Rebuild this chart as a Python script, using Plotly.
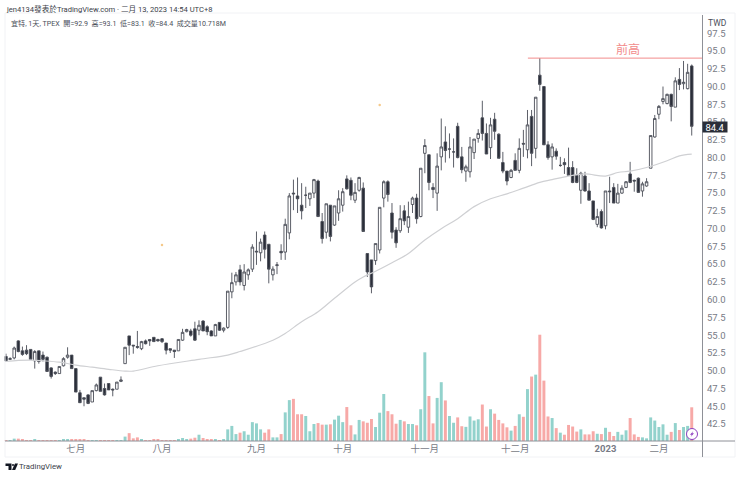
import plotly.graph_objects as go

# daily bars, oldest first
opens = [
    52.0, 51.6, 51.8, 54.2, 52.8, 52.9, 53.0, 51.4, 52.8, 52.2,
    51.9, 50.4, 49.8, 49.6, 50.7, 51.9, 52.2, 50.3, 46.9, 46.2,
    46.6, 45.6, 47.2, 49.1, 47.5, 48.2, 47.4, 47.4, 48.5, 51.0,
    54.9, 53.6, 53.4, 53.1, 54.2, 54.4, 54.7, 54.4, 54.5, 53.9,
    53.1, 52.9, 52.8, 54.3, 55.5, 55.6, 55.9, 55.7, 57.0, 56.2,
    55.6, 54.9, 56.8, 55.7, 56.1, 61.1, 62.5, 64.2, 62.0, 63.5,
    64.3, 66.7, 66.6, 69.1, 67.8, 63.5, 64.8, 66.8, 66.7, 69.4,
    75.0, 74.6, 73.3, 74.7, 74.2, 75.0, 76.7, 71.0, 69.5, 73.3,
    70.5, 72.2, 73.3, 77.0, 76.8, 74.0, 75.4, 75.7, 66.5, 65.6,
    65.5, 67.0, 74.3, 76.6, 72.2, 69.8, 69.7, 72.5, 70.2, 73.4,
    74.3, 71.7, 80.6, 80.4, 75.8, 75.0, 80.1, 82.2, 81.2, 80.8,
    84.4, 80.1, 78.1, 78.0, 80.7, 82.7, 85.6, 83.4, 81.4, 85.4,
    83.3, 79.3, 78.1, 77.2, 79.6, 78.2, 82.0, 81.1, 85.8, 81.3,
    91.6, 90.0, 81.8, 80.1, 80.9, 78.9, 79.3, 78.6, 78.6, 77.5,
    75.4, 77.4, 75.3, 73.9, 70.6, 72.4, 70.4, 75.3, 75.8, 73.6,
    75.0, 75.8, 77.7, 76.8, 77.1, 75.3, 76.0, 78.5, 82.9, 86.1,
    87.9, 87.6, 88.9, 87.1, 91.0, 90.4, 89.7, 92.9,
]
highs = [
    52.4, 51.9, 53.4, 54.3, 53.4, 53.6, 53.0, 52.9, 52.8, 52.7,
    52.0, 50.5, 49.9, 50.6, 51.9, 53.3, 52.2, 50.3, 47.3, 46.2,
    46.7, 47.2, 48.2, 49.1, 48.2, 48.2, 47.5, 48.4, 49.2, 53.3,
    54.9, 53.6, 55.6, 54.2, 54.4, 54.4, 54.7, 54.5, 54.6, 53.9,
    53.1, 52.9, 54.4, 55.9, 55.9, 55.9, 56.9, 57.1, 57.1, 56.4,
    55.7, 56.6, 56.8, 56.1, 61.2, 63.8, 63.9, 64.9, 65.0, 64.4,
    67.8, 69.6, 68.6, 69.6, 67.8, 64.7, 65.3, 67.8, 71.4, 75.0,
    76.9, 77.2, 76.4, 75.9, 75.0, 77.0, 76.9, 72.2, 73.5, 73.3,
    73.2, 75.4, 75.7, 77.5, 77.2, 76.4, 77.3, 76.5, 66.5, 65.6,
    67.9, 73.0, 76.8, 76.8, 73.6, 70.2, 73.3, 73.3, 73.8, 74.5,
    74.9, 78.5, 82.6, 80.4, 76.4, 80.6, 85.5, 84.4, 83.4, 82.7,
    84.9, 81.5, 79.0, 82.9, 82.6, 84.0, 88.0, 84.8, 85.6, 86.3,
    83.4, 80.8, 78.1, 78.4, 80.6, 82.7, 83.9, 86.7, 86.7, 88.5,
    94.0, 90.0, 82.3, 82.0, 81.3, 80.1, 79.9, 81.4, 79.5, 78.5,
    78.0, 78.0, 76.4, 73.9, 72.8, 72.7, 75.3, 77.3, 76.4, 76.3,
    76.1, 76.7, 79.4, 76.9, 77.2, 76.6, 77.1, 83.1, 86.0, 87.4,
    90.0, 89.0, 89.0, 91.3, 92.6, 93.6, 93.2, 93.1,
]
lows = [
    51.3, 51.5, 51.6, 52.6, 52.1, 52.2, 51.6, 50.3, 51.0, 51.3,
    49.9, 48.9, 49.4, 49.6, 50.6, 51.7, 50.3, 47.0, 45.5, 45.0,
    45.3, 45.6, 47.1, 47.1, 46.5, 47.3, 46.4, 47.4, 48.4, 51.0,
    52.2, 52.4, 53.1, 52.9, 53.7, 53.5, 54.1, 54.1, 53.9, 52.3,
    52.5, 51.8, 52.8, 54.2, 55.4, 54.8, 54.2, 55.0, 55.6, 55.0,
    54.9, 54.9, 55.6, 55.4, 55.9, 60.2, 62.0, 62.0, 61.3, 62.8,
    63.9, 64.9, 65.4, 65.8, 62.3, 62.7, 63.6, 65.6, 65.6, 68.5,
    72.6, 72.2, 71.3, 72.9, 73.2, 74.3, 71.7, 67.9, 68.6, 68.2,
    70.4, 71.1, 72.4, 75.5, 74.0, 73.6, 75.2, 69.6, 63.2, 60.9,
    64.9, 66.5, 73.0, 73.8, 68.6, 67.3, 69.4, 70.5, 69.4, 72.2,
    70.7, 71.6, 77.8, 75.4, 74.3, 72.5, 78.2, 79.3, 79.9, 78.6,
    79.9, 77.8, 76.6, 77.2, 79.8, 82.1, 82.4, 80.5, 79.8, 82.5,
    79.9, 77.8, 76.1, 77.1, 78.2, 77.8, 80.1, 79.9, 78.8, 79.9,
    89.4, 81.8, 79.7, 78.3, 79.7, 78.7, 77.7, 77.5, 76.4, 76.4,
    73.5, 75.2, 74.0, 71.2, 70.2, 70.0, 69.9, 73.6, 73.6, 73.6,
    74.9, 75.7, 76.4, 75.2, 75.1, 74.5, 75.9, 78.5, 82.8, 85.4,
    87.5, 87.5, 85.1, 87.1, 89.5, 89.6, 89.6, 83.1,
]
closes = [
    51.4, 51.7, 53.2, 52.7, 52.3, 52.4, 51.6, 52.7, 51.3, 51.6,
    49.9, 49.2, 49.6, 50.6, 51.7, 52.2, 50.3, 47.0, 45.5, 46.0,
    45.4, 47.2, 48.0, 47.1, 46.6, 47.3, 47.3, 48.4, 48.7, 53.3,
    53.6, 53.5, 53.3, 54.1, 53.8, 54.2, 54.1, 54.2, 54.1, 52.9,
    52.9, 52.7, 54.4, 55.4, 55.8, 55.0, 54.3, 56.4, 55.6, 55.5,
    54.9, 56.5, 55.7, 56.0, 61.2, 62.4, 63.5, 62.5, 63.9, 64.2,
    67.4, 66.8, 68.1, 67.1, 64.3, 64.3, 64.9, 66.6, 70.6, 74.6,
    74.9, 74.2, 72.5, 74.7, 75.0, 76.9, 71.7, 68.6, 73.5, 68.9,
    73.2, 74.2, 75.2, 75.6, 74.7, 75.1, 77.2, 69.6, 63.9, 61.8,
    67.9, 73.0, 76.6, 74.8, 69.5, 68.0, 71.4, 71.1, 71.7, 74.3,
    71.4, 78.5, 81.7, 76.5, 75.5, 78.8, 81.5, 81.0, 81.2, 80.8,
    80.0, 78.3, 78.7, 81.5, 82.6, 83.4, 83.4, 80.5, 84.6, 83.7,
    79.9, 78.1, 76.7, 78.2, 78.2, 81.3, 81.9, 84.6, 80.6, 88.5,
    90.3, 81.8, 80.0, 81.5, 80.2, 78.9, 79.0, 77.5, 76.5, 76.5,
    77.8, 75.3, 74.0, 71.3, 71.7, 70.1, 75.3, 75.2, 73.6, 75.0,
    75.7, 76.6, 76.5, 76.7, 75.1, 76.3, 76.6, 83.1, 85.5, 87.2,
    88.3, 88.9, 87.2, 90.8, 90.3, 90.6, 92.0, 84.4,
]
volumes = [
    0.3, 0.3, 0.75, 0.75, 0.4, 0.3, 0.2, 0.5, 0.3, 0.3,
    0.3, 0.3, 0.3, 0.3, 0.4, 0.6, 0.4, 0.6, 0.5, 0.4,
    0.3, 0.3, 0.3, 0.3, 0.3, 0.2, 0.2, 0.2, 0.2, 1.4,
    2.5, 0.85, 1.15, 0.4, 0.3, 0.3, 0.5, 0.4, 0.3, 0.3,
    0.3, 0.3, 0.6, 0.95, 0.6, 0.75, 1.05, 2.0, 0.95, 0.5,
    0.4, 0.5, 0.3, 0.4, 3.7, 4.8, 2.2, 2.65, 3.1, 2.0,
    6.0, 5.6, 3.7, 2.65, 3.7, 1.15, 1.15, 2.2, 9.1, 13.0,
    13.4, 8.5, 8.5, 7.95, 3.1, 5.4, 5.7, 5.2, 5.2, 5.3,
    6.8, 8.05, 6.0, 10.8, 5.0, 2.1, 6.7, 6.25, 5.8, 7.0,
    4.45, 9.0, 14.95, 9.5, 8.5, 5.5, 6.7, 6.25, 5.4, 5.4,
    5.0, 10.1, 28.2, 14.3, 5.6, 13.7, 18.7, 12.9, 7.95, 5.8,
    7.5, 4.7, 4.5, 7.8, 6.5, 6.9, 11.6, 4.6, 10.1, 8.7,
    6.7, 5.6, 4.35, 3.3, 4.8, 8.5, 7.7, 16.5, 20.5, 21.1,
    33.8, 19.2, 7.8, 7.3, 4.1, 2.65, 2.0, 5.1, 4.6, 3.0,
    3.7, 2.1, 2.1, 3.1, 2.3, 2.2, 4.2, 2.9, 1.6, 2.9,
    2.0, 3.4, 7.3, 2.1, 1.3, 1.15, 0.85, 7.5, 6.5, 4.45,
    5.3, 2.0, 2.9, 5.7, 3.5, 4.45, 4.8, 10.718,
]

# moving average, read at spots along the curve
ma_bars = [0, 3, 6, 9, 13, 17, 21, 25, 29, 31, 37, 47, 54, 57, 65, 68, 72, 76, 80, 85, 87,
           90, 94, 98, 102, 106, 110, 114, 118, 122, 126, 130, 133, 137, 141, 146, 149, 152, 156, 161, 164, 167]
ma_values = [51.3, 51.45, 51.5, 51.4, 51.2, 50.8, 50.5, 50.2, 49.95, 49.95, 50.7, 51.6, 52.2, 52.7, 54.3, 55.25,
             56.9, 58.3, 60.2, 62.5, 63.2, 64.0, 65.2, 66.5, 68.4, 70.0, 71.4, 73.1, 74.2, 74.9, 75.7, 76.5,
             76.9, 77.4, 77.7, 77.4, 77.9, 78.1, 78.6, 79.55, 80.25, 80.5]

price_ticks = [42.5, 45.0, 47.5, 50.0, 52.5, 55.0, 57.5, 60.0, 62.5, 65.0, 67.5, 70.0,
               72.5, 75.0, 77.5, 80.0, 82.5, 85.0, 87.5, 90.0, 92.5, 95.0, 97.5]
month_bars = [17, 38, 61, 82, 102, 124, 146, 159]
month_labels = ["七月", "八月", "九月", "十月", "十一月", "十二月", "<b>2023</b>", "二月"]

prior_high_bars = [127.1, 169.5]
prior_high = [94.0, 94.0]
speck_bars = [38, 91]
speck_prices = [67.7, 87.4]

FONT = "Roboto, 'Noto Sans CJK TC', sans-serif"
INK = "#2a2e39"
GREY = "#787b86"
TEAL = "#92d2cc"
PINK = "#f7a9a7"

bars = list(range(len(closes)))
volume_colors = [TEAL if c >= o else PINK for o, c in zip(opens, closes)]


# overlay bits are placed in screen pixels, plot runs 0..702 across and 13..441 down
def px(x):
    return x / 702


def py(y):
    return (441 - y) / 428


def path(points):
    return "M " + " L ".join(f"{px(x):.5f},{py(y):.5f}" for x, y in points) + " Z"


fig = go.Figure()

fig.add_trace(go.Bar(x=bars, y=volumes, yaxis="y2", marker_color=volume_colors,
                     marker_line_width=0, width=0.72))
fig.add_trace(go.Scatter(x=ma_bars, y=ma_values, mode="lines", line=dict(color="#cfd0d3", width=1.2, shape="spline")))
fig.add_trace(go.Candlestick(x=bars, open=opens, high=highs, low=lows, close=closes, whiskerwidth=0,
                             increasing=dict(fillcolor="#ffffff", line=dict(color="#4a4d57", width=0.9)),
                             decreasing=dict(fillcolor=INK, line=dict(color="#4a4d57", width=0.9))))
fig.add_trace(go.Scatter(x=prior_high_bars, y=prior_high, mode="lines", line=dict(color="#f28b8b", width=1)))
fig.add_trace(go.Scatter(x=speck_bars, y=speck_prices, mode="markers", marker=dict(color="#f5c98a", size=2.5)))

fig.update_layout(
    width=740, height=477, showlegend=False,
    margin=dict(l=0, r=38, t=13, b=36),
    paper_bgcolor="#ffffff", plot_bgcolor="#ffffff",
    font=dict(family=FONT, color=GREY, size=10),
    boxgap=0.12,
    xaxis=dict(range=[-1.46, 169.5], rangeslider=dict(visible=False), showgrid=False, zeroline=False,
               tickvals=month_bars, ticktext=month_labels, tickfont=dict(size=9.5, color=GREY),
               ticks="", showline=False),
    yaxis=dict(range=[40.11, 100.35], side="right", showgrid=False, zeroline=False, tickvals=price_ticks,
               ticktext=[f"{t:.1f}" for t in price_ticks], ticks="", ticklabelstandoff=4,
               tickfont=dict(size=9.5, color=GREY)),
    yaxis2=dict(range=[0, 136.1], overlaying="y", side="left", visible=False),
)

line = dict(color="#8e9097", width=1)
frame = dict(color="#f1f2f5", width=1)
fig.update_layout(shapes=[
    dict(type="rect", xref="paper", yref="paper", x0=px(5), x1=px(735), y0=py(457), y1=py(13), line=frame),
    dict(type="line", xref="paper", yref="paper", x0=px(5), x1=px(735), y0=py(441), y1=py(441), line=line),
    dict(type="line", xref="paper", yref="paper", x0=px(702.5), x1=px(702.5), y0=py(457), y1=py(15), line=line),
    # lightning badge on the last bar
    dict(type="circle", xref="paper", yref="paper", x0=px(686.5), x1=px(697.5), y0=py(439.5), y1=py(428.5),
         line=dict(color="#8e3fc0", width=1), fillcolor="#ffffff"),
    dict(type="path", xref="paper", yref="paper", fillcolor="#8e3fc0", line=dict(width=0),
         path=path([(693.3, 431), (690, 434.8), (691.8, 434.8), (690.7, 437), (694, 433.2), (692.2, 433.2)])),
    # logo
    dict(type="path", xref="paper", yref="paper", fillcolor="#131722", line=dict(width=0),
         path=path([(5.5, 463.5), (11.5, 463.5), (11.5, 470), (8.5, 470), (8.5, 466), (5.5, 466)])),
    dict(type="circle", xref="paper", yref="paper", x0=px(12), x1=px(14), y0=py(466), y1=py(464),
         fillcolor="#131722", line=dict(width=0)),
    dict(type="path", xref="paper", yref="paper", fillcolor="#131722", line=dict(width=0),
         path=path([(15, 463.5), (18, 463.5), (15.2, 470), (12, 470)])),
])


def note(text, x, y, size, color, anchor="left", **kw):
    fig.add_annotation(text=text, xref="paper", yref="paper", x=px(x), y=py(y), xanchor=anchor, yanchor="middle",
                       showarrow=False, font=dict(size=size, color=color, family=FONT), **kw)


note("jen4134發表於TradingView.com · 二月 13, 2023 14:54 UTC+8", 4, 9, 7.6, "#3a3e49")
note("宜特, 1天, TPEX&nbsp;&nbsp;開=92.9&nbsp;&nbsp;高=93.1&nbsp;&nbsp;低=83.1&nbsp;&nbsp;收=84.4&nbsp;&nbsp;成交量10.718M",
     9, 24, 7.1, "#4a4e59")
note("TWD", 706, 23, 8.5, "#4a4e59")
note("前高", 628, 49, 12, "#f28b8b", anchor="center")
note("84.4", 715, 126.5, 9.5, "#ffffff", anchor="center", bgcolor=INK, width=24, height=10, borderpad=0)
note("TradingView", 17, 466.5, 7.8, "#3a3e49")

fig.write_html("out.html", post_script="document.body.style.margin='0';", config=dict(displayModeBar=False))
